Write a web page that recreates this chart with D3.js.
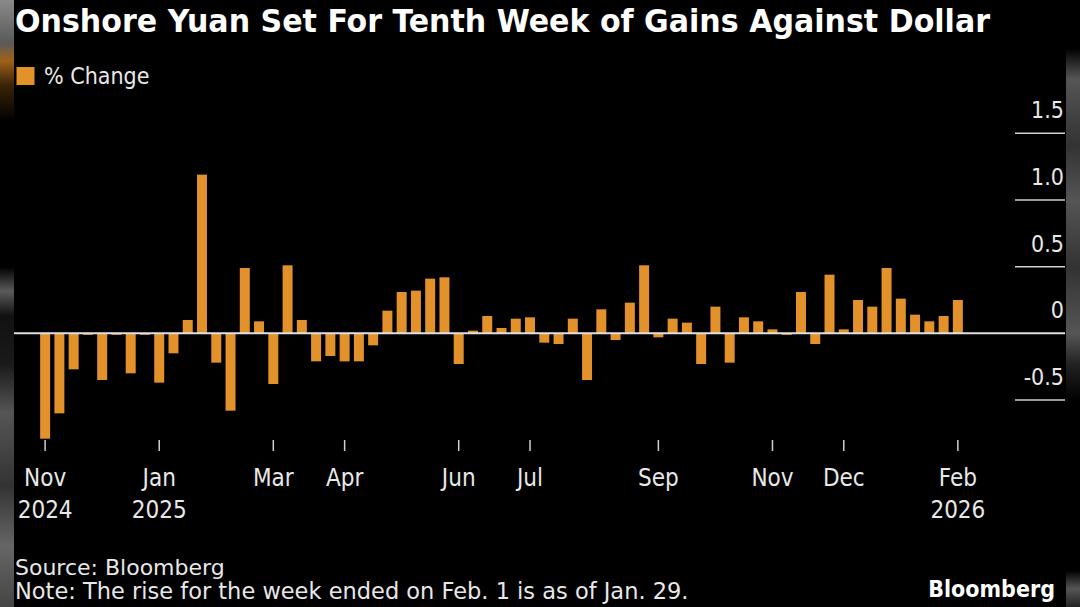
<!DOCTYPE html>
<html>
<head>
<meta charset="utf-8">
<script src="https://cdn.jsdelivr.net/npm/d3@7"></script>
<style>
  body { margin: 0; background: #000; }
  svg { display: block; }
</style>
</head>
<body>
<div id="chart"></div>
<script>
// weekly % change of onshore yuan vs dollar, weeks ending Sunday
var firstWeek = "2024-11-10";
var lastWeek = "2026-02-01";
var changes = [-0.79, -0.60, -0.27, -0.01, -0.35, -0.01, -0.30, -0.01, -0.37, -0.15,
    0.10, 1.19, -0.22, -0.58, 0.49, 0.09, -0.38, 0.51, 0.10, -0.21,
    -0.17, -0.21, -0.21, -0.09, 0.17, 0.31, 0.32, 0.41, 0.42, -0.23,
    0.02, 0.13, 0.04, 0.11, 0.12, -0.07, -0.08, 0.11, -0.35, 0.18,
    -0.05, 0.23, 0.51, -0.03, 0.11, 0.08, -0.23, 0.20, -0.22, 0.12,
    0.09, 0.03, -0.01, 0.31, -0.08, 0.44, 0.03, 0.25, 0.20, 0.49,
    0.26, 0.14, 0.09, 0.13, 0.25];

var tickWeeks = ["2024-11-10", "2025-01-05", "2025-03-02", "2025-04-06", "2025-06-01",
    "2025-07-06", "2025-09-07", "2025-11-02", "2025-12-07", "2026-02-01"];
var tickMonths = ["Nov", "Jan", "Mar", "Apr", "Jun", "Jul", "Sep", "Nov", "Dec", "Feb"];
var tickYears = ["2024", "2025", "", "", "", "", "", "", "", "2026"];
var yTicks = [-0.5, 0, 0.5, 1.0, 1.5];
var yTickLabels = ["-0.5", "0", "0.5", "1.0", "1.5"];

var svgWidth = 1080;
var svgHeight = 607;
var font = "'DejaVu Sans Condensed', 'DejaVu Sans', sans-serif";
var footFont = "'DejaVu Sans', sans-serif";
var orange = "#e3922b";
var textColor = "#e8e8e8";

var parse = d3.timeParse("%Y-%m-%d");
var fmt = d3.timeFormat("%Y-%m-%d");
var weeks = d3.timeDay.range(parse(firstWeek), d3.timeDay.offset(parse(lastWeek), 1), 7).map(fmt);

var data = weeks.map(function(w, i) {
    return {week: w, value: changes[i]};
});

var svg = d3.select("#chart")
    .append("svg")
    .attr("width", svgWidth)
    .attr("height", svgHeight)
    .style("background", "#000");

// blurred edge strips like the photographed original
var defs = svg.append("defs");
function edgeGradient(id, stops) {
    var g = defs.append("linearGradient")
        .attr("id", id)
        .attr("x1", 0).attr("y1", 0).attr("x2", 0).attr("y2", 1);
    stops.forEach(function(s) {
        g.append("stop").attr("offset", s[0]).attr("stop-color", s[1]);
    });
}
edgeGradient("leftEdge", [[0, "#8a8a8a"], [0.07, "#5a5a5a"], [0.1, "#a0601a"], [0.14, "#3a2408"],
    [0.2, "#000"], [0.44, "#000"], [0.48, "#5a5a5a"], [0.52, "#111"], [0.6, "#1a1a1a"],
    [0.68, "#555"], [0.8, "#333"], [0.9, "#666"], [1, "#444"]]);
edgeGradient("rightEdge", [[0, "#000"], [0.08, "#000"], [0.13, "#555"], [0.24, "#333"],
    [0.33, "#555"], [0.44, "#333"], [0.55, "#555"], [0.6, "#222"], [0.66, "#000"],
    [0.94, "#000"], [0.97, "#555"], [1, "#222"]]);

svg.append("rect")
    .attr("x", 0).attr("y", 0)
    .attr("width", 14).attr("height", svgHeight)
    .attr("fill", "url(#leftEdge)");
svg.append("rect")
    .attr("x", 1066).attr("y", 0)
    .attr("width", 14).attr("height", svgHeight)
    .attr("fill", "url(#rightEdge)");

var xScale = d3.scaleBand()
    .domain(weeks)
    .range([38, 965])
    .paddingInner(0.3)
    .paddingOuter(0.15);

var yScale = d3.scaleLinear()
    .domain([-0.5, 1.5])
    .range([400, 133.3]);

// title + legend
svg.append("text")
    .attr("x", 15)
    .attr("y", 32)
    .attr("fill", "#fff")
    .style("font-family", font)
    .style("font-weight", "bold")
    .style("font-size", "32px")
    .attr("textLength", 975)
    .attr("lengthAdjust", "spacingAndGlyphs")
    .text("Onshore Yuan Set For Tenth Week of Gains Against Dollar");

svg.append("rect")
    .attr("x", 16.5)
    .attr("y", 67)
    .attr("width", 18)
    .attr("height", 18)
    .attr("fill", orange);

svg.append("text")
    .attr("x", 44)
    .attr("y", 84)
    .attr("fill", textColor)
    .style("font-family", font)
    .style("font-size", "23px")
    .text("% Change");

// y gridlines (short stubs at right) and labels
var yGroup = svg.append("g");
yGroup.selectAll("line")
    .data(yTicks.filter(d => d !== 0))
    .enter()
    .append("line")
    .attr("x1", 1015)
    .attr("x2", 1065)
    .attr("y1", d => yScale(d))
    .attr("y2", d => yScale(d))
    .attr("stroke", "#d0d0d0")
    .attr("stroke-width", 1.5);

yGroup.selectAll("text")
    .data(yTicks)
    .enter()
    .append("text")
    .attr("x", 1064)
    .attr("y", d => yScale(d) - 15)
    .attr("text-anchor", "end")
    .attr("fill", textColor)
    .style("font-family", font)
    .style("font-size", "23px")
    .text((d, i) => yTickLabels[i]);

// bars
svg.append("g")
    .selectAll("rect")
    .data(data)
    .enter()
    .append("rect")
    .attr("x", d => xScale(d.week))
    .attr("width", xScale.bandwidth())
    .attr("y", d => yScale(Math.max(0, d.value)))
    .attr("height", d => Math.max(1.5, Math.abs(yScale(d.value) - yScale(0))))
    .attr("fill", orange);

// zero line
svg.append("line")
    .attr("x1", 14)
    .attr("x2", 1065)
    .attr("y1", yScale(0))
    .attr("y2", yScale(0))
    .attr("stroke", "#e0e0e0")
    .attr("stroke-width", 2);

// x axis ticks and labels
var xGroup = svg.append("g");
var tickData = tickWeeks.map(function(w, i) {
    return {week: w, month: tickMonths[i], year: tickYears[i]};
});

xGroup.selectAll("line")
    .data(tickData)
    .enter()
    .append("line")
    .attr("x1", d => xScale(d.week) + xScale.bandwidth() / 2)
    .attr("x2", d => xScale(d.week) + xScale.bandwidth() / 2)
    .attr("y1", 440)
    .attr("y2", 451)
    .attr("stroke", "#d0d0d0")
    .attr("stroke-width", 1.5);

xGroup.selectAll("text.month")
    .data(tickData)
    .enter()
    .append("text")
    .attr("class", "month")
    .attr("x", d => xScale(d.week) + xScale.bandwidth() / 2)
    .attr("y", 486)
    .attr("text-anchor", "middle")
    .attr("fill", textColor)
    .style("font-family", font)
    .style("font-size", "24px")
    .text(d => d.month);

xGroup.selectAll("text.year")
    .data(tickData)
    .enter()
    .append("text")
    .attr("class", "year")
    .attr("x", d => xScale(d.week) + xScale.bandwidth() / 2)
    .attr("y", 518)
    .attr("text-anchor", "middle")
    .attr("fill", textColor)
    .style("font-family", font)
    .style("font-size", "24px")
    .text(d => d.year);

// footer
svg.append("text")
    .attr("x", 15)
    .attr("y", 575)
    .attr("fill", textColor)
    .style("font-family", footFont)
    .style("font-size", "22px")
    .text("Source: Bloomberg");

svg.append("text")
    .attr("x", 15)
    .attr("y", 599)
    .attr("fill", textColor)
    .style("font-family", footFont)
    .style("font-size", "22.5px")
    .text("Note: The rise for the week ended on Feb. 1 is as of Jan. 29.");

svg.append("text")
    .attr("x", 1055)
    .attr("y", 597)
    .attr("text-anchor", "end")
    .attr("fill", "#fff")
    .style("font-family", font)
    .style("font-weight", "bold")
    .style("font-size", "23px")
    .text("Bloomberg");
</script>
</body>
</html>
